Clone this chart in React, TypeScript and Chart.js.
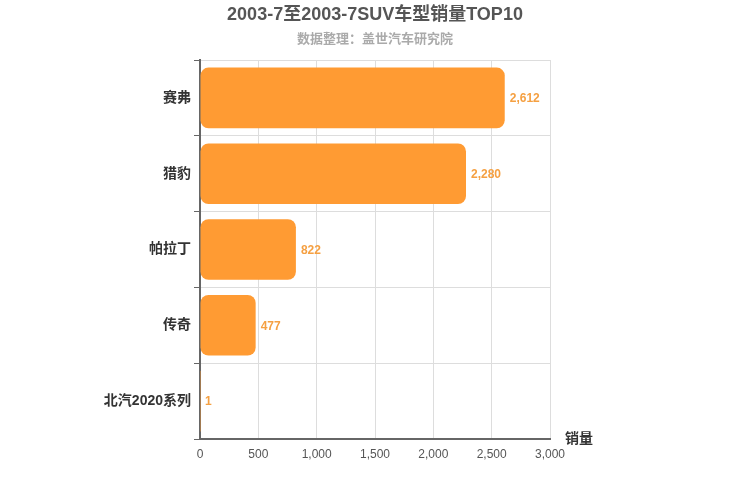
import React, { useEffect, useRef } from "react";
import { Chart, registerables } from "chart.js";

Chart.register(...registerables);

const categories = ["赛弗", "猎豹", "帕拉丁", "传奇", "北汽2020系列"];
const sales = [2612, 2280, 822, 477, 1];
const xTicks = [0, 500, 1000, 1500, 2000, 2500, 3000];
const titleText = "2003-7至2003-7SUV车型销量TOP10";
const subtitleText = "数据整理：盖世汽车研究院";
const axisTitle = "销量";

const FONT = "'Liberation Sans', Arial, 'Noto Sans CJK SC', sans-serif";

const decorPlugin = {
  id: "decor",
  afterDraw(chart: any) {
    const ctx = chart.ctx;
    const area = chart.chartArea;
    ctx.save();
    ctx.textAlign = "center";
    ctx.textBaseline = "middle";
    ctx.fillStyle = "#555555";
    ctx.font = `bold 18px ${FONT}`;
    ctx.fillText(titleText, 375, 15);
    ctx.fillStyle = "#aaaaaa";
    ctx.font = `bold 13px ${FONT}`;
    ctx.fillText(subtitleText, 375, 39);
    // axis title
    ctx.fillStyle = "#333333";
    ctx.font = `bold 14px ${FONT}`;
    ctx.textAlign = "left";
    ctx.fillText(axisTitle, area.right + 15, area.bottom);
    // data labels
    const meta = chart.getDatasetMeta(0);
    ctx.font = `bold 12px ${FONT}`;
    ctx.fillStyle = "#f5a042";
    ctx.textAlign = "left";
    meta.data.forEach((bar: any, i: number) => {
      const v = sales[i];
      ctx.fillText(v.toLocaleString("en-US"), bar.x + 5, bar.y + 1);
    });
    ctx.restore();
  },
};

export default function App() {
  const ref = useRef<HTMLCanvasElement>(null);
  useEffect(() => {
    if (!ref.current) return;
    const chart = new Chart(ref.current, {
      type: "bar",
      data: {
        labels: categories,
        datasets: [
          {
            data: sales,
            backgroundColor: "#ff9b33",
            borderRadius: 8,
            borderSkipped: false,
            barPercentage: 0.8,
            categoryPercentage: 1,
          },
        ],
      },
      plugins: [decorPlugin],
      options: {
        indexAxis: "y",
        responsive: false,
        animation: false,
        layout: { padding: { top: 60, left: 0, right: 200, bottom: 31 } },
        plugins: { legend: { display: false }, tooltip: { enabled: false }, title: { display: false } },
        scales: {
          x: {
            min: 0,
            max: 3000,
            afterBuildTicks(scale: any) {
              scale.ticks = xTicks.map((v) => ({ value: v }));
            },
            afterFit(scale: any) {
              scale.height = 30;
            },
            grid: { color: "#dddddd", drawTicks: false, tickLength: 0 },
            border: { color: "#666666", width: 2 },
            ticks: {
              padding: 8,
              color: "#555555",
              font: { family: FONT, size: 12 },
              callback: (v: any) => Number(v).toLocaleString("en-US"),
            },
          },
          y: {
            afterFit(scale: any) {
              scale.width = 200;
            },
            grid: { color: "#dddddd", offset: true, tickLength: 6, tickColor: "#666666" },
            border: { color: "#666666", width: 2 },
            ticks: {
              padding: 3,
              color: "#333333",
              font: { family: FONT, size: 14, weight: "bold" },
            },
          },
        },
      },
    } as any);
    return () => chart.destroy();
  }, []);
  return (
    <canvas
      ref={ref}
      width={750}
      height={500}
      style={{ position: "absolute", left: 0, top: 0, width: 750, height: 500 }}
    />
  );
}
